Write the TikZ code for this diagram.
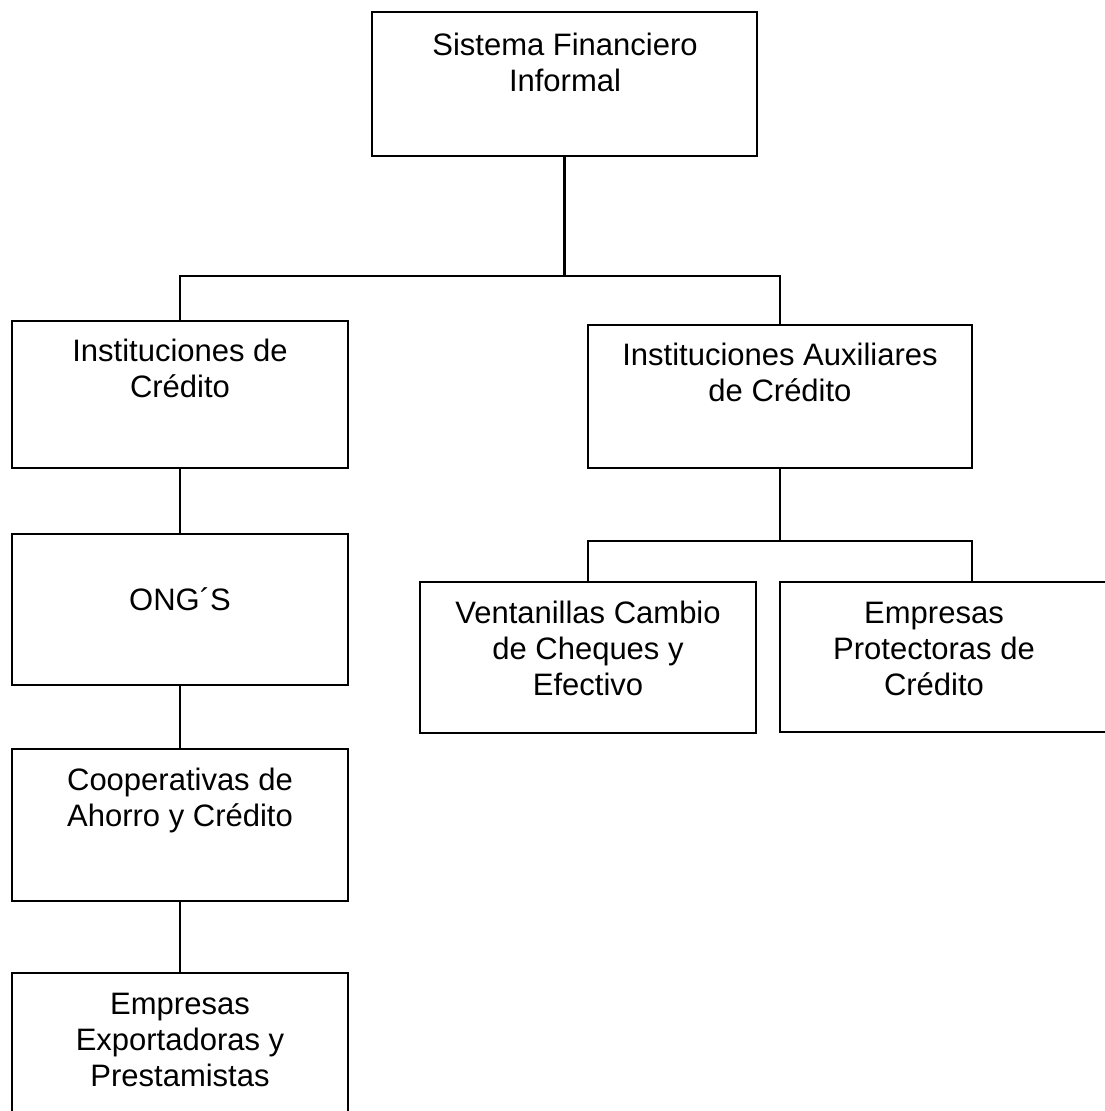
\documentclass[tikz,border=0pt]{standalone}
\usepackage{fontspec}
\setmainfont{Liberation Sans}
\begin{document}
\begin{tikzpicture}[x=1pt,y=-1pt,
  box/.style={draw=black, line width=2.3pt, rectangle, inner sep=0pt, outer sep=0pt, anchor=north west},
  lbl/.style={font=\fontsize{31}{36}\selectfont, align=center, anchor=base, inner sep=0pt},
  conn/.style={draw=black, line width=2.3pt}]
\useasboundingbox (0,0) rectangle (1105,1111);
\fill[white] (0,0) rectangle (1105,1111);
\clip (0,0) rectangle (1105,1111);
% boxes
\node[box, minimum width=385pt, minimum height=144pt] (top) at (372,12) {};
\node[box, minimum width=336pt, minimum height=147pt] (inst) at (12,321) {};
\node[box, minimum width=384pt, minimum height=143pt] (aux) at (588,325) {};
\node[box, minimum width=336pt, minimum height=151pt] (ong) at (12,534) {};
\node[box, minimum width=336pt, minimum height=152pt] (coop) at (12,749) {};
\node[box, minimum width=336pt, minimum height=160pt] (emp) at (12,973) {};
\node[box, minimum width=336pt, minimum height=151pt] (vent) at (420,582) {};
\node[box, minimum width=340pt, minimum height=150pt] (prot) at (780,582) {};
% texts (anchor=base is the baseline of the last line)
\node[lbl] (ttop) at (565,91) {Sistema Financiero\\Informal};
\node[lbl] (tinst) at (180,397) {Instituciones de\\Crédito};
\node[lbl] (taux) at (780,401) {Instituciones Auxiliares\\de Crédito};
\node[lbl] (tong) at (180,610) {ONG´S};
\node[lbl] (tcoop) at (180,826) {Cooperativas de\\Ahorro y Crédito};
\node[lbl] (temp) at (180,1086) {Empresas\\Exportadoras y\\Prestamistas};
\node[lbl] (tvent) at (588,695) {Ventanillas Cambio\\de Cheques y\\Efectivo};
\node[lbl] (tprot) at (934,695) {Empresas\\Protectoras de\\Crédito};
% connectors
\path (top.south) ++(0,120) coordinate (j1);
\path (aux.south) ++(0,73) coordinate (j2);
\coordinate (pdrop) at (972,582);
\draw[conn] (top.south) -- (j1);
\draw[conn] (j1) -| (inst.north);
\draw[conn] (j1) -| (aux.north);
\draw[conn] (inst.south) -- (ong.north);
\draw[conn] (ong.south) -- (coop.north);
\draw[conn] (coop.south) -- (emp.north);
\draw[conn] (aux.south) -- (j2);
\draw[conn] (j2) -| (vent.north);
\draw[conn] (j2) -| (pdrop);
\end{tikzpicture}
\end{document}
